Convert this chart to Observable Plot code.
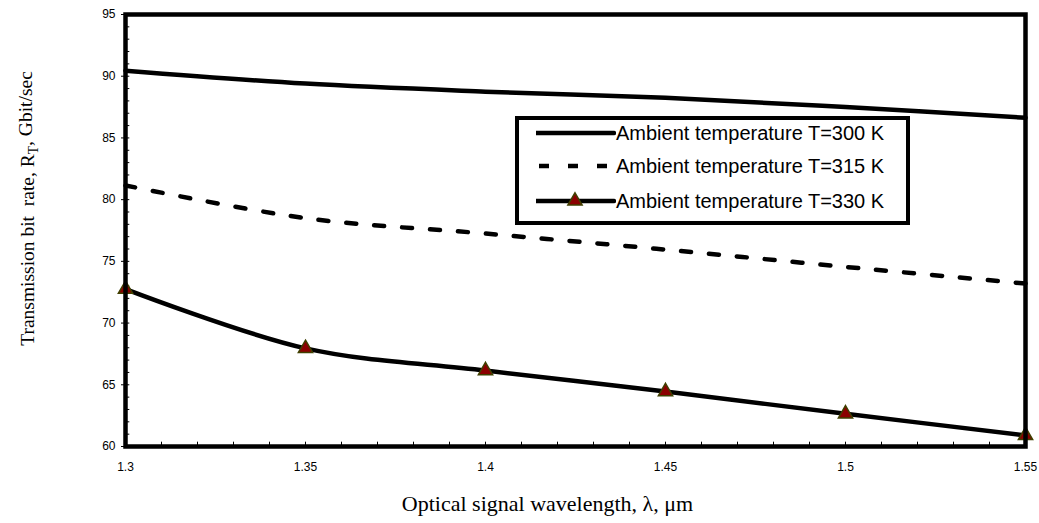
<!DOCTYPE html>
<html>
<head>
<meta charset="utf-8">
<script src="https://cdn.jsdelivr.net/npm/d3@7"></script>
<script src="https://cdn.jsdelivr.net/npm/@observablehq/plot@0.6"></script>
<style>
  html, body { margin: 0; padding: 0; background: #fff; }
  #wrap { position: relative; width: 1039px; height: 523px; }
  #legend { position: absolute; left: 515px; top: 116px; width: 395px; height: 109px;
            box-sizing: border-box; border: 4px solid #000; background: #fff;
            font-family: "Liberation Sans", Arial, sans-serif; font-size: 20px; color: #000; }
  .row { position: absolute; left: 0; height: 30px; }
  .row svg { position: absolute; left: 17px; top: 0; }
  .row span { position: absolute; left: 97px; top: 3px; white-space: nowrap; line-height: 24px; }
</style>
</head>
<body>
<div id="wrap"></div>
<script>
// ---- data ----
const wavelength = [1.3, 1.35, 1.4, 1.45, 1.5, 1.55];
const rateT300 = [90.45, 89.4, 88.75, 88.25, 87.5, 86.63];
const rateT315 = [81.15, 78.5, 77.25, 75.95, 74.55, 73.2];
const rateT330 = [72.75, 67.95, 66.15, 64.45, 62.65, 60.9];
const seriesNames = ["Ambient temperature T=300 K", "Ambient temperature T=315 K", "Ambient temperature T=330 K"];
const xTicks = [1.3, 1.35, 1.4, 1.45, 1.5, 1.55];
const yTicks = [60, 65, 70, 75, 80, 85, 90, 95];
const xTitle = "Optical signal wavelength, λ, μm";
const yTitle = "Transmission bit  rate, RT, Gbit/sec";

const rows = (vals) => wavelength.map((x, i) => ({x, y: vals[i]}));
const d300 = rows(rateT300), d315 = rows(rateT315), d330 = rows(rateT330);

const minorX = d3.range(1, 25).map(i => 1.3 + i * 0.01).map(v => +v.toFixed(2));
const minorY = d3.range(61, 95);

const markerFill = "#8b0000", markerStroke = "#404000";

const chart = Plot.plot({
  width: 1039, height: 523,
  marginLeft: 125, marginRight: 14, marginTop: 14, marginBottom: 77,
  style: {fontFamily: "'Liberation Sans', Arial, sans-serif", fontSize: "12px", background: "#fff", overflow: "visible"},
  x: {domain: [1.3, 1.55]},
  y: {domain: [60, 95]},
  marks: [
    Plot.ruleX(minorX, {x: d => d, y1: 60, y2: 60.35, stroke: "#000", strokeWidth: 1}),
    Plot.ruleY(minorY, {y: d => d, x1: 1.3, x2: 1.3012, stroke: "#000", strokeWidth: 1}),
    Plot.axisY({ticks: yTicks, tickSize: 4, tickPadding: 6, tickFormat: d => String(d), label: null, fontSize: 12}),
    Plot.axisX({ticks: xTicks, tickSize: 0, tickPadding: 16, tickFormat: d => String(d), label: null, fontSize: 12}),
    Plot.line(d300, {x: "x", y: "y", stroke: "#000", strokeWidth: 4.5, curve: "catmull-rom"}),
    Plot.line(d315, {x: "x", y: "y", stroke: "#000", strokeWidth: 4.5, strokeDasharray: "10,18", curve: "catmull-rom"}),
    Plot.line(d330, {x: "x", y: "y", stroke: "#000", strokeWidth: 4.5, curve: "catmull-rom"}),
    Plot.dot(d330, {x: "x", y: "y", symbol: "triangle", r: 5.3, fill: markerFill, stroke: markerStroke, strokeWidth: 1.5}),
    Plot.frame({stroke: "#000", strokeWidth: 4.5}),
    Plot.text([yTitle], {frameAnchor: "left", text: d => d, rotate: -90, dx: -98, dy: -22,
      textAnchor: "middle", lineAnchor: "middle",
      fontSize: 19.5, fontFamily: "'Liberation Serif', 'Times New Roman', serif", fill: "#000"}),
    Plot.text([xTitle], {frameAnchor: "bottom", text: d => d, dx: -28, dy: 57,
      textAnchor: "middle", lineAnchor: "middle",
      fontSize: 22, fontFamily: "'Liberation Serif', 'Times New Roman', serif", fill: "#000"})
  ]
});

document.getElementById("wrap").appendChild(chart);

// subscript T in R_T
d3.select(chart).selectAll("text").filter(function() { return this.textContent === yTitle; })
  .each(function() {
    const t = d3.select(this);
    t.text(null).style("white-space", "pre");
    t.append("tspan").text("Transmission bit  rate, R");
    t.append("tspan").attr("dy", "0.3em").attr("font-size", "0.7em").text("T");
    t.append("tspan").attr("dy", "-0.3em").text(", Gbit/sec");
  });

// legend
const legend = document.createElement("div");
legend.id = "legend";
const rowTops = [-2, 31, 66];
seriesNames.forEach((name, i) => {
  const row = document.createElement("div");
  row.className = "row";
  row.style.top = rowTops[i] + "px";
  const ns = "http://www.w3.org/2000/svg";
  const svg = document.createElementNS(ns, "svg");
  svg.setAttribute("width", "80"); svg.setAttribute("height", "30");
  const line = document.createElementNS(ns, "line");
  line.setAttribute("x1", i === 1 ? 3 : 0); line.setAttribute("x2", 78);
  line.setAttribute("y1", 15); line.setAttribute("y2", 15);
  line.setAttribute("stroke", "#000"); line.setAttribute("stroke-width", "4.5");
  line.setAttribute("stroke-linecap", i === 1 ? "butt" : "round");
  if (i === 1) line.setAttribute("stroke-dasharray", "10,19");
  svg.appendChild(line);
  if (i === 2) {
    const tri = document.createElementNS(ns, "path");
    tri.setAttribute("d", d3.symbol(d3.symbolTriangle, Math.PI * 5.3 * 5.3)());
    tri.setAttribute("transform", "translate(39,15)");
    tri.setAttribute("fill", markerFill); tri.setAttribute("stroke", markerStroke);
    tri.setAttribute("stroke-width", "1.5");
    svg.appendChild(tri);
  }
  row.appendChild(svg);
  const span = document.createElement("span");
  span.textContent = name;
  row.appendChild(span);
  legend.appendChild(row);
});
document.getElementById("wrap").appendChild(legend);
</script>
</body>
</html>
